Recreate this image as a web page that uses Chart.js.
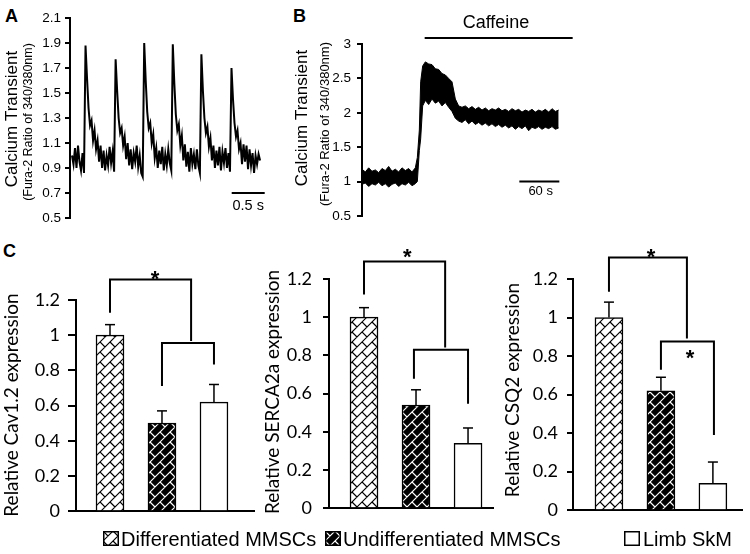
<!DOCTYPE html>
<html lang="en">
<head>
<meta charset="UTF-8">
<title>Calcium transient and Ca handling gene expression</title>
<style>
    body { margin: 0; width: 750px; height: 554px; position: relative; overflow: hidden; background: #fff;
           font-family: "Liberation Sans", Arial, sans-serif; color: #000; }
    .pane { position: absolute; }
    .letter { position: absolute; font-size: 18px; font-weight: bold; line-height: 20px; }
    .leg { position: absolute; top: 527px; font-size: 20px; line-height: 24px; white-space: nowrap; }
    .sw { position: absolute; top: 531px; }
</style>
</head>
<body>
<div class="letter" style="left:5px; top:6px;">A</div>
<div class="letter" style="left:293px; top:6px;">B</div>
<div class="letter" style="left:3px; top:241px;">C</div>

<div class="pane" style="left:0; top:0; width:280px; height:232px;"><canvas id="cA"></canvas></div>
<div class="pane" style="left:280px; top:0; width:300px; height:232px;"><canvas id="cB"></canvas></div>
<div class="pane" style="left:0; top:232px; width:262px; height:298px;"><canvas id="cC1"></canvas></div>
<div class="pane" style="left:262px; top:232px; width:238px; height:298px;"><canvas id="cC2"></canvas></div>
<div class="pane" style="left:500px; top:232px; width:250px; height:298px;"><canvas id="cC3"></canvas></div>

<canvas class="sw" id="sw0" width="16" height="15" style="left:103px;"></canvas>
<div class="leg" id="lg0" style="left:121px;"></div>
<canvas class="sw" id="sw1" width="16" height="15" style="left:325px;"></canvas>
<div class="leg" id="lg1" style="left:343px;"></div>
<canvas class="sw" id="sw2" width="16" height="15" style="left:624px;"></canvas>
<div class="leg" id="lg2" style="left:643px;"></div>

<script src="https://cdn.jsdelivr.net/npm/chart.js"></script>
<script>
    // ---------- data ----------
    // A: spontaneous transients, one sample every ~0.023 s
    const v_dtA = 0.0228;
    const v_traceA = [
        1.00, 0.93, 1.06, 0.90, 1.08, 0.95, 0.88, 1.02, 0.86,
        1.88, 1.62, 1.38, 1.24, 1.28, 1.12, 1.20, 1.05, 1.12, 0.95, 1.08,
        0.90, 1.04, 0.88, 1.00, 0.92, 1.07, 0.94, 1.03, 0.87,
        1.77, 1.52, 1.30, 1.18, 1.22, 1.08, 1.15, 0.97, 1.10, 0.92, 1.05,
        0.89, 1.02, 0.95, 1.08, 0.91, 1.00, 0.86, 0.83,
        1.90, 1.60, 1.35, 1.22, 1.26, 1.10, 1.17, 0.98, 1.06, 0.90, 1.04,
        0.93, 1.07, 0.88, 1.01, 0.92, 1.05, 0.94, 0.88,
        1.89, 1.58, 1.33, 1.20, 1.25, 1.08, 1.16, 0.96, 1.09, 0.91, 1.03,
        0.87, 1.06, 0.93, 1.01, 0.89, 1.05, 0.92, 0.86,
        1.81, 1.52, 1.30, 1.18, 1.23, 1.07, 1.14, 0.96, 1.08, 0.90, 1.04,
        0.92, 1.07, 0.88, 1.03, 0.94, 1.06, 0.90, 1.02, 0.87,
        1.70, 1.45, 1.26, 1.15, 1.20, 1.05, 1.10, 0.93, 1.09, 0.95, 1.08,
        0.89, 1.05, 0.92, 1.02, 0.86, 1.00, 0.93, 1.01, 0.96
    ];

    // B: caffeine response (s), upper and lower edge of the noisy trace
    const v_timeB = [0, 5, 10, 15, 20, 25, 30, 35, 40, 45, 50, 55, 60, 65, 70, 75, 80,
        83, 86, 88, 91,
        95, 100, 105, 110, 115, 120, 125, 130, 135, 140, 145, 150, 155, 160, 165, 170, 175, 180,
        185, 190, 195, 200, 205, 210, 215, 220, 225, 230, 235, 240, 245, 250, 255, 260, 265, 270,
        275, 280, 285, 290, 295];
    const v_upperB = [1.18, 1.14, 1.20, 1.15, 1.17, 1.13, 1.19, 1.16, 1.22, 1.15, 1.18, 1.14, 1.20, 1.16, 1.19, 1.14, 1.20,
        1.35, 1.75, 2.45, 2.68,
        2.74, 2.71, 2.70, 2.64, 2.63, 2.57, 2.55, 2.50, 2.45, 2.20, 2.10, 2.08, 2.10, 2.06, 2.09, 2.05, 2.08, 2.04,
        2.07, 2.03, 2.06, 2.04, 2.07, 2.03, 2.05, 2.02, 2.06, 2.03, 2.05, 2.01, 2.04, 2.02, 2.05, 2.01, 2.04, 2.02,
        2.05, 2.01, 2.06, 2.02, 2.04];
    const v_lowerB = [0.96, 0.98, 0.93, 0.97, 0.95, 0.99, 0.94, 0.97, 0.92, 0.96, 0.98, 0.93, 0.97, 0.95, 0.99, 0.94, 0.97,
        1.00, 1.45, 1.62, 2.10,
        2.18, 2.12, 2.20, 2.14, 2.17, 2.10, 2.15, 2.08, 2.02, 1.92, 1.88, 1.86, 1.90, 1.84, 1.88, 1.83, 1.86, 1.82,
        1.85, 1.81, 1.84, 1.80, 1.83, 1.79, 1.82, 1.78, 1.81, 1.76, 1.80, 1.77, 1.81, 1.74, 1.79, 1.77, 1.80, 1.76,
        1.79, 1.77, 1.80, 1.76, 1.78];

    // C: relative expression, mean and upper error
    const v_groups = ['Differentiated MMSCs', 'Undifferentiated MMSCs', 'Limb SkM'];
    const v_cav = [1.00, 0.50, 0.62];
    const v_cavErr = [0.06, 0.07, 0.10];
    const v_serca = [1.00, 0.54, 0.34];
    const v_sercaErr = [0.05, 0.08, 0.08];
    const v_csq = [1.00, 0.62, 0.14];
    const v_csqErr = [0.08, 0.07, 0.11];

    // axis ranges [min, max, step]
    const v_rangeA = [0.5, 2.1, 0.2];
    const v_rangeB = [0.5, 3, 0.5];
    const v_rangeC = [0, 1.2, 0.2];

    // ---------- helpers ----------
    const v_sans = '"Liberation Sans", Arial, sans-serif';
    const v_lato = 'Lato, "Open Sans", sans-serif';

    function f_pattern(p_bg, p_fg) {
        const P = 10, T = 20;
        const c = document.createElement('canvas');
        c.width = T; c.height = T;
        const g = c.getContext('2d');
        g.fillStyle = p_bg; g.fillRect(0, 0, T, T);
        g.strokeStyle = p_fg; g.lineWidth = 1.2;
        g.beginPath();
        for (let m = -4; m <= 8; m++) {
            const u = m * P;
            // '/' diagonals
            g.moveTo((u + 50) / 2, (u - 50) / 2);
            g.lineTo((u - 50) / 2, (u + 50) / 2);
            // short '\' strokes between neighbouring diagonals, offset every other row
            for (let k = -4; k <= 4; k++) {
                const v = (Math.abs(m) % 2) * P + k * 2 * P;
                g.moveTo((u + v) / 2, (u - v) / 2);
                g.lineTo((u + P + v) / 2, (u + P - v) / 2);
            }
        }
        g.stroke();
        return g.createPattern(c, 'repeat');
    }

    const v_hatchW = f_pattern('#fff', '#000');
    const v_hatchB = f_pattern('#000', '#fff');
    const v_fills = [v_hatchW, v_hatchB, '#fff'];

    function f_vtext(ctx, p_txt, x, y, p_font) {
        ctx.save();
        ctx.translate(x, y);
        ctx.rotate(-Math.PI / 2);
        ctx.font = p_font; ctx.fillStyle = '#000';
        ctx.textAlign = 'center'; ctx.textBaseline = 'middle';
        ctx.fillText(p_txt, 0, 0);
        ctx.restore();
    }

    function f_text(ctx, p_txt, x, y, p_font) {
        ctx.save();
        ctx.font = p_font; ctx.fillStyle = '#000';
        ctx.textAlign = 'center'; ctx.textBaseline = 'middle';
        ctx.fillText(p_txt, x, y);
        ctx.restore();
    }

    function f_seg(ctx, x1, y1, x2, y2, w) {
        ctx.save();
        ctx.strokeStyle = '#000'; ctx.lineWidth = w;
        ctx.beginPath(); ctx.moveTo(x1, y1); ctx.lineTo(x2, y2); ctx.stroke();
        ctx.restore();
    }

    function f_yScale(p_range, p_font, p_tick, p_pad, p_width) {
        return {
            type: 'linear', min: p_range[0], max: p_range[1],
            ticks: { stepSize: p_range[2], color: '#000', font: p_font, padding: p_pad,
                     callback: (v) => String(Math.round(v * 10) / 10) },
            grid: { display: true, drawOnChartArea: false, drawTicks: true, tickLength: p_tick,
                    color: '#000', lineWidth: 2 },
            border: { display: true, color: '#000', width: 2 },
            afterFit: (s) => { s.width = p_width; }
        };
    }

    const v_base = {
        animation: false, responsive: true, maintainAspectRatio: false, events: [],
        plugins: { legend: { display: false }, tooltip: { enabled: false } }
    };

    // ---------- A ----------
    new Chart(document.getElementById('cA'), {
        type: 'line',
        data: {
            datasets: [{
                data: v_traceA.map((v, i) => ({ x: i * v_dtA, y: v })),
                borderColor: '#000', borderWidth: 2, pointRadius: 0, tension: 0
            }]
        },
        options: Object.assign({}, v_base, {
            layout: { padding: { left: 0, top: 18, right: 12, bottom: 14 } },
            scales: {
                x: { type: 'linear', display: false, min: -0.03, max: 2.97 },
                y: f_yScale(v_rangeA, { family: v_sans, size: 13.5 }, 5, 4, 70)
            }
        }),
        plugins: [{
            id: 'extrasA',
            afterDraw(chart) {
                const ctx = chart.ctx, xs = chart.scales.x, ys = chart.scales.y;
                f_vtext(ctx, 'Calcium Transient', 12, 119, '17px ' + v_sans);
                f_vtext(ctx, '(Fura-2 Ratio of 340/380nm)', 28.5, 122, '12.5px ' + v_sans);
                // 0.5 s scale bar
                const y = ys.getPixelForValue(0.70);
                f_seg(ctx, xs.getPixelForValue(2.42), y, xs.getPixelForValue(2.92), y, 2);
                f_text(ctx, '0.5 s', xs.getPixelForValue(2.67), ys.getPixelForValue(0.6), '14.5px ' + v_sans);
            }
        }]
    });

    // ---------- B ----------
    new Chart(document.getElementById('cB'), {
        type: 'line',
        data: {
            datasets: [
                { data: v_timeB.map((t, i) => ({ x: t, y: v_upperB[i] })), borderColor: '#000', borderWidth: 1,
                  pointRadius: 0, tension: 0, fill: '+1', backgroundColor: '#000' },
                { data: v_timeB.map((t, i) => ({ x: t, y: v_lowerB[i] })), borderColor: '#000', borderWidth: 1,
                  pointRadius: 0, tension: 0, fill: false }
            ]
        },
        options: Object.assign({}, v_base, {
            layout: { padding: { left: 0, top: 44, right: 5, bottom: 16 } },
            scales: {
                x: { type: 'linear', display: false, min: 0, max: 319.5 },
                y: f_yScale(v_rangeB, { family: v_sans, size: 13.5 }, 5, 6, 82)
            }
        }),
        plugins: [{
            id: 'extrasB',
            afterDraw(chart) {
                const ctx = chart.ctx, xs = chart.scales.x, ys = chart.scales.y;
                f_vtext(ctx, 'Calcium Transient', 22.5, 118, '17px ' + v_sans);
                f_vtext(ctx, '(Fura-2 Ratio of 340/380nm)', 45, 124, '13px ' + v_sans);
                // caffeine application
                const yc = ys.getPixelForValue(3.087);
                f_seg(ctx, xs.getPixelForValue(94), yc, xs.getPixelForValue(316), yc, 2);
                f_text(ctx, 'Caffeine', xs.getPixelForValue(201), ys.getPixelForValue(3.30), '18px ' + v_sans);
                // 60 s scale bar
                const ys60 = ys.getPixelForValue(1.0);
                f_seg(ctx, xs.getPixelForValue(236), ys60, xs.getPixelForValue(296), ys60, 2);
                f_text(ctx, '60 s', xs.getPixelForValue(268), ys.getPixelForValue(0.86), '13px ' + v_sans);
            }
        }]
    });

    // ---------- C ----------
    function f_barChart(p_id, p_vals, p_err, p_title, p_opt) {
        new Chart(document.getElementById(p_id), {
            type: 'bar',
            data: {
                datasets: [{
                    label: p_title,
                    data: p_vals.map((v, i) => ({ x: i, y: v })),
                    backgroundColor: v_fills, borderColor: '#000', borderWidth: 1.5,
                    barThickness: 28
                }]
            },
            options: Object.assign({}, v_base, {
                layout: { padding: { left: 0, top: p_opt.top, right: p_opt.right, bottom: 14 } },
                scales: {
                    x: { type: 'linear', min: p_opt.xmin, max: p_opt.xmax, offset: false,
                         ticks: { display: false }, grid: { display: false },
                         border: { display: true, color: '#000', width: 2 },
                         afterFit: (s) => { s.height = 0; } },
                    y: f_yScale(v_rangeC, { family: v_lato, size: 18 }, p_opt.tick, p_opt.pad, p_opt.width)
                }
            }),
            plugins: [{
                id: 'barExtras',
                afterDatasetsDraw(chart) {
                    const ctx = chart.ctx, xs = chart.scales.x, ys = chart.scales.y;
                    // error bars (upper only)
                    chart.getDatasetMeta(0).data.forEach((bar, i) => {
                        const yt = ys.getPixelForValue(p_vals[i] + p_err[i]);
                        f_seg(ctx, bar.x, bar.y, bar.x, yt, 1.5);
                        f_seg(ctx, bar.x - 5, yt, bar.x + 5, yt, 1.5);
                    });
                    // significance brackets [x1, x2, y, leg1 end, leg2 end]
                    ctx.save();
                    ctx.strokeStyle = '#000'; ctx.lineWidth = 2;
                    p_opt.brackets.forEach((b) => {
                        const x1 = xs.getPixelForValue(b[0]), x2 = xs.getPixelForValue(b[1]);
                        const y = ys.getPixelForValue(b[2]);
                        ctx.beginPath();
                        ctx.moveTo(x1, ys.getPixelForValue(b[3]));
                        ctx.lineTo(x1, y); ctx.lineTo(x2, y);
                        ctx.lineTo(x2, ys.getPixelForValue(b[4]));
                        ctx.stroke();
                    });
                    ctx.restore();
                    p_opt.stars.forEach((s) => {
                        f_text(ctx, '*', xs.getPixelForValue(s[0]), ys.getPixelForValue(s[1]) + 5, 'bold 22px ' + v_sans);
                    });
                    f_vtext(ctx, p_title, p_opt.tx, p_opt.ty, '19px ' + v_lato);
                }
            }]
        });
    }

    f_barChart('cC1', v_cav, v_cavErr, 'Relative Cav1.2 expression', {
        top: 68, right: 8, width: 76, tick: 8, pad: 8, xmin: -0.654, xmax: 2.77, tx: 11.5, ty: 173,
        brackets: [[0, 1.56, 1.317, 1.128, 0.967], [1, 2, 0.956, 0.711, 0.833]],
        stars: [[0.865, 1.344]]
    });
    f_barChart('cC2', v_serca, v_sercaErr, 'Relative SERCA2a expression', {
        top: 47, right: 7, width: 67, tick: 6, pad: 11, xmin: -0.673, xmax: 2.48, tx: 11, ty: 160,
        brackets: [[0, 1.56, 1.291, 1.119, 0.841], [0.96, 2, 0.830, 0.678, 0.547]],
        stars: [[0.83, 1.337]]
    });
    f_barChart('cC3', v_csq, v_csqErr, 'Relative CSQ2 expression', {
        top: 47, right: 8, width: 73, tick: 6, pad: 9, xmin: -0.692, xmax: 2.56, tx: 12.5, ty: 158,
        brackets: [[0, 1.5, 1.311, 1.134, 0.891], [1, 2.02, 0.876, 0.729, 0.390]],
        stars: [[0.81, 1.337], [1.56, 0.813]]
    });

    // ---------- legend ----------
    v_groups.forEach((g, i) => {
        document.getElementById('lg' + i).textContent = g;
        const sw = document.getElementById('sw' + i).getContext('2d');
        sw.fillStyle = v_fills[i];
        sw.fillRect(0, 0, 16, 15);
        sw.strokeStyle = '#000'; sw.lineWidth = 1.5;
        sw.strokeRect(0.75, 0.75, 14.5, 13.5);
    });
</script>
</body>
</html>
